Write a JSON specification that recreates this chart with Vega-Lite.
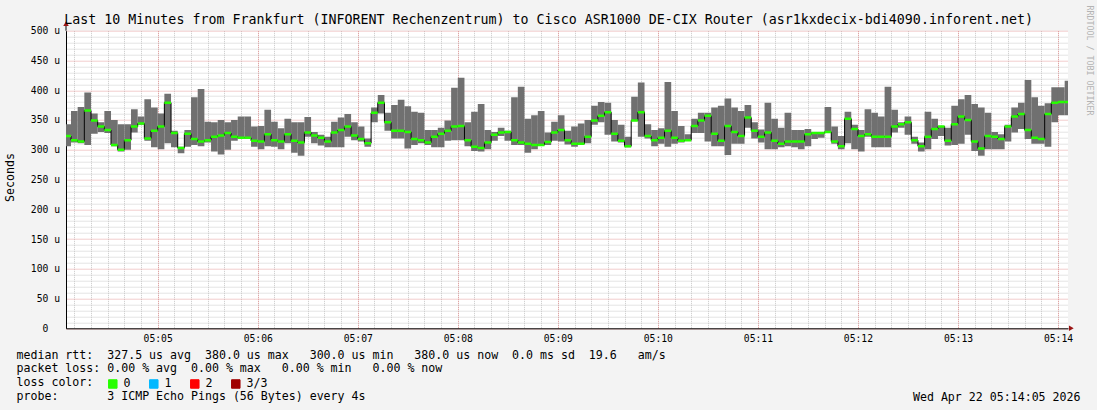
{
"$schema": "https://vega.github.io/schema/vega-lite/v6.json",
"autosize": {"type": "none"},
"width": 1002,
"height": 297.6,
"padding": {"left": 66, "top": 30.7, "right": 29, "bottom": 81.7},
"background": "#f3f3f3",
"config": {"view": {"fill": "#ffffff", "stroke": null}, "font": "DejaVu Sans Mono"},
"title": {"text": "Last 10 Minutes from Frankfurt (INFORENT Rechenzentrum) to Cisco ASR1000 DE-CIX Router (asr1kxdecix-bdi4090.inforent.net)", "anchor": "start", "frame": "group", "dx": -1.7, "dy": 38.7, "offset": 6.7, "baseline": "alphabetic", "font": "DejaVu Sans Mono", "fontSize": 13.3, "fontWeight": "normal", "color": "#000000"},
"data": {"values": [
{"start":244,"end":248,"lo":306,"hi":343,"med":323},
{"start":248,"end":252,"lo":312,"hi":365,"med":316},
{"start":252,"end":256,"lo":311,"hi":372,"med":314},
{"start":256,"end":260,"lo":308,"hi":396,"med":366},
{"start":260,"end":264,"lo":327,"hi":361,"med":349},
{"start":264,"end":268,"lo":330,"hi":346,"med":339},
{"start":268,"end":272,"lo":328,"hi":365,"med":333},
{"start":272,"end":276,"lo":306,"hi":350,"med":308},
{"start":276,"end":280,"lo":297,"hi":343,"med":300},
{"start":280,"end":284,"lo":300,"hi":343,"med":316},
{"start":284,"end":288,"lo":329,"hi":368,"med":339},
{"start":288,"end":292,"lo":342,"hi":356,"med":344},
{"start":292,"end":296,"lo":315,"hi":385,"med":319},
{"start":296,"end":300,"lo":304,"hi":371,"med":332},
{"start":300,"end":304,"lo":301,"hi":361,"med":339},
{"start":304,"end":308,"lo":311,"hi":394,"med":379},
{"start":308,"end":312,"lo":304,"hi":332,"med":328},
{"start":312,"end":316,"lo":294,"hi":305,"med":303},
{"start":316,"end":320,"lo":305,"hi":333,"med":327},
{"start":320,"end":324,"lo":308,"hi":388,"med":318},
{"start":324,"end":328,"lo":306,"hi":402,"med":314},
{"start":328,"end":332,"lo":312,"hi":347,"med":316},
{"start":332,"end":336,"lo":297,"hi":346,"med":322},
{"start":336,"end":340,"lo":292,"hi":350,"med":324},
{"start":340,"end":344,"lo":300,"hi":346,"med":328},
{"start":344,"end":348,"lo":315,"hi":350,"med":322},
{"start":348,"end":352,"lo":319,"hi":356,"med":320},
{"start":352,"end":356,"lo":319,"hi":356,"med":320},
{"start":356,"end":360,"lo":305,"hi":339,"med":315},
{"start":360,"end":364,"lo":301,"hi":340,"med":314},
{"start":364,"end":368,"lo":306,"hi":367,"med":326},
{"start":368,"end":372,"lo":305,"hi":347,"med":316},
{"start":372,"end":376,"lo":301,"hi":336,"med":314},
{"start":376,"end":380,"lo":311,"hi":352,"med":326},
{"start":380,"end":384,"lo":295,"hi":346,"med":315},
{"start":384,"end":388,"lo":290,"hi":346,"med":312},
{"start":388,"end":392,"lo":322,"hi":355,"med":329},
{"start":392,"end":396,"lo":311,"hi":330,"med":324},
{"start":396,"end":400,"lo":307,"hi":325,"med":320},
{"start":400,"end":404,"lo":304,"hi":322,"med":314},
{"start":404,"end":408,"lo":304,"hi":347,"med":329},
{"start":408,"end":412,"lo":304,"hi":354,"med":333},
{"start":412,"end":416,"lo":322,"hi":360,"med":339},
{"start":416,"end":420,"lo":316,"hi":346,"med":324},
{"start":420,"end":424,"lo":314,"hi":339,"med":318},
{"start":424,"end":428,"lo":305,"hi":319,"med":311},
{"start":428,"end":432,"lo":346,"hi":371,"med":362},
{"start":432,"end":436,"lo":361,"hi":392,"med":379},
{"start":436,"end":440,"lo":332,"hi":362,"med":346},
{"start":440,"end":444,"lo":319,"hi":375,"med":332},
{"start":444,"end":448,"lo":319,"hi":384,"med":332},
{"start":448,"end":452,"lo":302,"hi":373,"med":330},
{"start":452,"end":456,"lo":308,"hi":364,"med":318},
{"start":456,"end":460,"lo":311,"hi":362,"med":316},
{"start":460,"end":464,"lo":308,"hi":333,"med":312},
{"start":464,"end":468,"lo":304,"hi":333,"med":322},
{"start":468,"end":472,"lo":304,"hi":337,"med":327},
{"start":472,"end":476,"lo":315,"hi":349,"med":332},
{"start":476,"end":480,"lo":316,"hi":404,"med":339},
{"start":480,"end":484,"lo":316,"hi":421,"med":340},
{"start":484,"end":488,"lo":306,"hi":346,"med":316},
{"start":488,"end":492,"lo":298,"hi":364,"med":305},
{"start":492,"end":496,"lo":297,"hi":377,"med":303},
{"start":496,"end":500,"lo":301,"hi":333,"med":312},
{"start":500,"end":504,"lo":315,"hi":330,"med":325},
{"start":504,"end":508,"lo":323,"hi":337,"med":329},
{"start":508,"end":512,"lo":315,"hi":332,"med":330},
{"start":512,"end":516,"lo":308,"hi":388,"med":316},
{"start":516,"end":520,"lo":308,"hi":406,"med":312},
{"start":520,"end":524,"lo":295,"hi":352,"med":310},
{"start":524,"end":528,"lo":301,"hi":358,"med":308},
{"start":528,"end":532,"lo":308,"hi":365,"med":308},
{"start":532,"end":536,"lo":308,"hi":329,"med":313},
{"start":536,"end":540,"lo":315,"hi":347,"med":329},
{"start":540,"end":544,"lo":314,"hi":358,"med":333},
{"start":544,"end":548,"lo":309,"hi":332,"med":316},
{"start":548,"end":552,"lo":305,"hi":339,"med":310},
{"start":552,"end":556,"lo":310,"hi":344,"med":310},
{"start":556,"end":560,"lo":311,"hi":350,"med":322},
{"start":560,"end":564,"lo":342,"hi":374,"med":349},
{"start":564,"end":568,"lo":346,"hi":380,"med":357},
{"start":568,"end":572,"lo":325,"hi":379,"med":363},
{"start":572,"end":576,"lo":314,"hi":350,"med":327},
{"start":576,"end":580,"lo":312,"hi":342,"med":315},
{"start":580,"end":584,"lo":304,"hi":322,"med":306},
{"start":584,"end":588,"lo":349,"hi":389,"med":349},
{"start":588,"end":592,"lo":322,"hi":413,"med":363},
{"start":592,"end":596,"lo":319,"hi":343,"med":323},
{"start":596,"end":600,"lo":306,"hi":333,"med":316},
{"start":600,"end":604,"lo":310,"hi":336,"med":320},
{"start":604,"end":608,"lo":305,"hi":414,"med":332},
{"start":608,"end":612,"lo":310,"hi":365,"med":320},
{"start":612,"end":616,"lo":312,"hi":340,"med":315},
{"start":616,"end":620,"lo":315,"hi":326,"med":316},
{"start":620,"end":624,"lo":328,"hi":352,"med":340},
{"start":624,"end":628,"lo":328,"hi":362,"med":349},
{"start":628,"end":632,"lo":314,"hi":362,"med":357},
{"start":632,"end":636,"lo":306,"hi":371,"med":327},
{"start":636,"end":640,"lo":306,"hi":374,"med":315},
{"start":640,"end":644,"lo":291,"hi":386,"med":340},
{"start":644,"end":648,"lo":310,"hi":371,"med":330},
{"start":648,"end":652,"lo":310,"hi":365,"med":323},
{"start":652,"end":656,"lo":337,"hi":375,"med":354},
{"start":656,"end":660,"lo":319,"hi":346,"med":332},
{"start":660,"end":664,"lo":312,"hi":334,"med":322},
{"start":664,"end":668,"lo":301,"hi":379,"med":329},
{"start":668,"end":672,"lo":301,"hi":352,"med":315},
{"start":672,"end":676,"lo":304,"hi":337,"med":310},
{"start":676,"end":680,"lo":306,"hi":362,"med":314},
{"start":680,"end":684,"lo":304,"hi":333,"med":314},
{"start":684,"end":688,"lo":301,"hi":333,"med":314},
{"start":688,"end":692,"lo":306,"hi":335,"med":326},
{"start":692,"end":696,"lo":318,"hi":329,"med":328},
{"start":696,"end":700,"lo":320,"hi":329,"med":328},
{"start":700,"end":704,"lo":328,"hi":372,"med":330},
{"start":704,"end":708,"lo":310,"hi":339,"med":314},
{"start":708,"end":712,"lo":301,"hi":323,"med":306},
{"start":712,"end":716,"lo":311,"hi":364,"med":352},
{"start":716,"end":720,"lo":301,"hi":342,"med":335},
{"start":720,"end":724,"lo":297,"hi":333,"med":323},
{"start":724,"end":728,"lo":322,"hi":368,"med":326},
{"start":728,"end":732,"lo":304,"hi":362,"med":322},
{"start":732,"end":736,"lo":304,"hi":356,"med":322},
{"start":736,"end":740,"lo":304,"hi":406,"med":322},
{"start":740,"end":744,"lo":329,"hi":367,"med":339},
{"start":744,"end":748,"lo":337,"hi":346,"med":343},
{"start":748,"end":752,"lo":325,"hi":356,"med":346},
{"start":752,"end":756,"lo":310,"hi":322,"med":316},
{"start":756,"end":760,"lo":297,"hi":312,"med":306},
{"start":760,"end":764,"lo":301,"hi":364,"med":322},
{"start":764,"end":768,"lo":318,"hi":352,"med":335},
{"start":768,"end":772,"lo":323,"hi":340,"med":339},
{"start":772,"end":776,"lo":307,"hi":337,"med":315},
{"start":776,"end":780,"lo":308,"hi":374,"med":343},
{"start":780,"end":784,"lo":310,"hi":385,"med":356},
{"start":784,"end":788,"lo":325,"hi":392,"med":350},
{"start":788,"end":792,"lo":298,"hi":377,"med":314},
{"start":792,"end":796,"lo":290,"hi":371,"med":302},
{"start":796,"end":800,"lo":301,"hi":362,"med":323},
{"start":800,"end":804,"lo":301,"hi":330,"med":322},
{"start":804,"end":808,"lo":301,"hi":326,"med":318},
{"start":808,"end":812,"lo":314,"hi":342,"med":339},
{"start":812,"end":816,"lo":329,"hi":371,"med":356},
{"start":816,"end":820,"lo":335,"hi":379,"med":360},
{"start":820,"end":824,"lo":318,"hi":417,"med":333},
{"start":824,"end":828,"lo":310,"hi":388,"med":320},
{"start":828,"end":832,"lo":310,"hi":374,"med":318},
{"start":832,"end":836,"lo":305,"hi":378,"med":360},
{"start":836,"end":840,"lo":346,"hi":405,"med":379},
{"start":840,"end":844,"lo":358,"hi":405,"med":380},
{"start":844,"end":848,"lo":358,"hi":416,"med":380}
]},
"resolve": {"axis": {"x": "independent", "y": "independent"}},
"layer": [
{
"mark": {"type": "rect", "color": "#707070", "clip": true},
"encoding": {
"x": {"field": "start", "type": "quantitative", "scale": {"domain": [245, 846], "nice": false, "zero": false},
"axis": {"orient": "bottom", "values": [250,260,270,280,290,300,310,320,330,340,350,360,370,380,390,400,410,420,430,440,450,460,470,480,490,500,510,520,530,540,550,560,570,580,590,600,610,620,630,640,650,660,670,680,690,700,710,720,730,740,750,760,770,780,790,800,810,820,830,840], "grid": true, "gridColor": "#c8c8c8", "gridDash": [1, 1], "gridWidth": 1, "domain": false, "ticks": false, "labels": false,
"title": "Wed Apr 22 05:14:05 2026", "titleX": 1014, "titleY": 71.7, "titleAlign": "right", "titleBaseline": "alphabetic", "titleFont": "DejaVu Sans Mono", "titleFontSize": 11.6, "titleFontWeight": "normal", "titleColor": "#000000"}},
"x2": {"field": "end"},
"y": {"field": "lo", "type": "quantitative", "scale": {"domain": [0, 500], "nice": false, "zero": true},
"axis": {"orient": "left", "values": [10,20,30,40,60,70,80,90,110,120,130,140,160,170,180,190,210,220,230,240,260,270,280,290,310,320,330,340,360,370,380,390,410,420,430,440,460,470,480,490], "grid": true, "gridColor": "#c8c8c8", "gridDash": [1, 1], "gridWidth": 1, "domain": false, "ticks": false, "labels": false, "title": null}},
"y2": {"field": "hi"}
}
},
{
"mark": {"type": "line", "interpolate": "step-after", "color": "#000000", "strokeWidth": 1, "clip": true},
"encoding": {
"x": {"field": "start", "type": "quantitative",
"axis": {"orient": "bottom", "values": [300,360,420,480,540,600,660,720,780,840], "grid": true, "gridColor": "#e49a9a", "gridDash": [1, 1], "gridWidth": 1, "domain": true, "domainColor": "#000000", "domainWidth": 1, "ticks": false,
"labelExpr": "'05:' + (datum.value < 600 ? '0' : '') + (datum.value / 60)", "labelFont": "DejaVu Sans Mono", "labelFontSize": 9.7, "labelColor": "#000000", "labelPadding": 5.5, "labelFlush": false, "labelOverlap": false,
"title": ["median rtt:\u00a0\u00a0327.5 us avg\u00a0\u00a0380.0 us max\u00a0\u00a0\u00a0300.0 us min\u00a0\u00a0\u00a0380.0 us now\u00a0\u00a00.0 ms sd\u00a0\u00a019.6\u00a0\u00a0\u00a0am/s", "packet loss: 0.00 % avg\u00a0\u00a00.00 % max\u00a0\u00a0\u00a00.00 % min\u00a0\u00a0\u00a00.00 % now", "loss color:", "probe:\u00a0\u00a0\u00a0\u00a0\u00a0\u00a0\u00a03 ICMP Echo Pings (56 Bytes) every 4s"],
"titleX": -50, "titleY": 29.7, "titleAlign": "left", "titleBaseline": "alphabetic", "titleLineHeight": 13.9, "titleFont": "DejaVu Sans Mono", "titleFontSize": 11.6, "titleFontWeight": "normal", "titleColor": "#000000"}},
"y": {"field": "med", "type": "quantitative",
"axis": {"orient": "left", "values": [0,50,100,150,200,250,300,350,400,450,500], "grid": true, "gridColor": "#e49a9a", "gridDash": [1, 1], "gridWidth": 1, "domain": true, "domainColor": "#000000", "domainWidth": 1, "ticks": false,
"labelExpr": "datum.value == 0 ? '0' : datum.value + ' u'", "labelFont": "DejaVu Sans Mono", "labelFontSize": 9.7, "labelColor": "#000000", "labelPadding": {"condition": {"test": "datum.value == 0", "value": 18.2}, "value": 6.5}, "labelFlush": false, "labelOverlap": false,
"title": "Seconds", "titleX": -56, "titleY": 146.3, "titleAngle": 270, "titleAlign": "center", "titleBaseline": "middle", "titleFont": "DejaVu Sans Mono", "titleFontSize": 11.6, "titleFontWeight": "normal", "titleColor": "#000000"}}
}
},
{
"mark": {"type": "rule", "strokeWidth": 2.5, "strokeCap": "butt", "clip": true},
"encoding": {
"x": {"field": "start", "type": "quantitative", "axis": null},
"x2": {"field": "end"},
"y": {"field": "med", "type": "quantitative",
"axis": {"orient": "right", "grid": false, "domain": false, "ticks": false, "labels": false,
"title": "RRDTOOL / TOBI OETIKER", "titleAngle": 90, "titleX": 20, "titleY": 29.3, "titleAlign": "center", "titleBaseline": "middle", "titleFont": "DejaVu Sans Mono", "titleFontSize": 8.3, "titleFontWeight": "normal", "titleColor": "#b4b4b4"}},
"color": {"datum": "0", "type": "nominal",
"scale": {"domain": ["0", "1", "2", "3/3"], "range": ["#26ff00", "#00b8ff", "#ff0000", "#a00000"]},
"legend": {"orient": "none", "legendX": 41, "legendY": 347, "direction": "horizontal", "title": null, "symbolType": "square", "symbolSize": 72, "symbolStrokeColor": "#000000", "symbolStrokeWidth": 1, "symbolOpacity": 1, "labelFont": "DejaVu Sans Mono", "labelFontSize": 11.6, "labelColor": "#000000", "labelOffset": 5, "columnPadding": 16, "padding": 0, "offset": 0,
"encode": {"symbols": {"update": {"fill": {"scale": "color", "field": "value"}, "stroke": {"value": "#000000"}, "strokeWidth": {"value": 1}, "opacity": {"value": 1}}}}}}
}
},
{
"data": {"values": [{}]},
"mark": {"type": "rule", "color": "#000000", "strokeWidth": 1, "clip": false},
"encoding": {"x": {"datum": 245, "type": "quantitative", "axis": null}, "y": {"datum": 500, "type": "quantitative", "axis": null}, "y2": {"datum": 511}}
},
{
"data": {"values": [{}]},
"mark": {"type": "point", "shape": "triangle-up", "filled": true, "color": "#9a1414", "size": 30, "opacity": 1, "clip": false},
"encoding": {"x": {"datum": 245, "type": "quantitative", "axis": null}, "y": {"datum": 512, "type": "quantitative", "axis": null}}
},
{
"data": {"values": [{}]},
"mark": {"type": "point", "shape": "triangle-right", "filled": true, "color": "#9a1414", "size": 30, "opacity": 1, "clip": false},
"encoding": {"x": {"datum": 848, "type": "quantitative", "axis": null}, "y": {"datum": 0, "type": "quantitative", "axis": null}}
}
]
}
